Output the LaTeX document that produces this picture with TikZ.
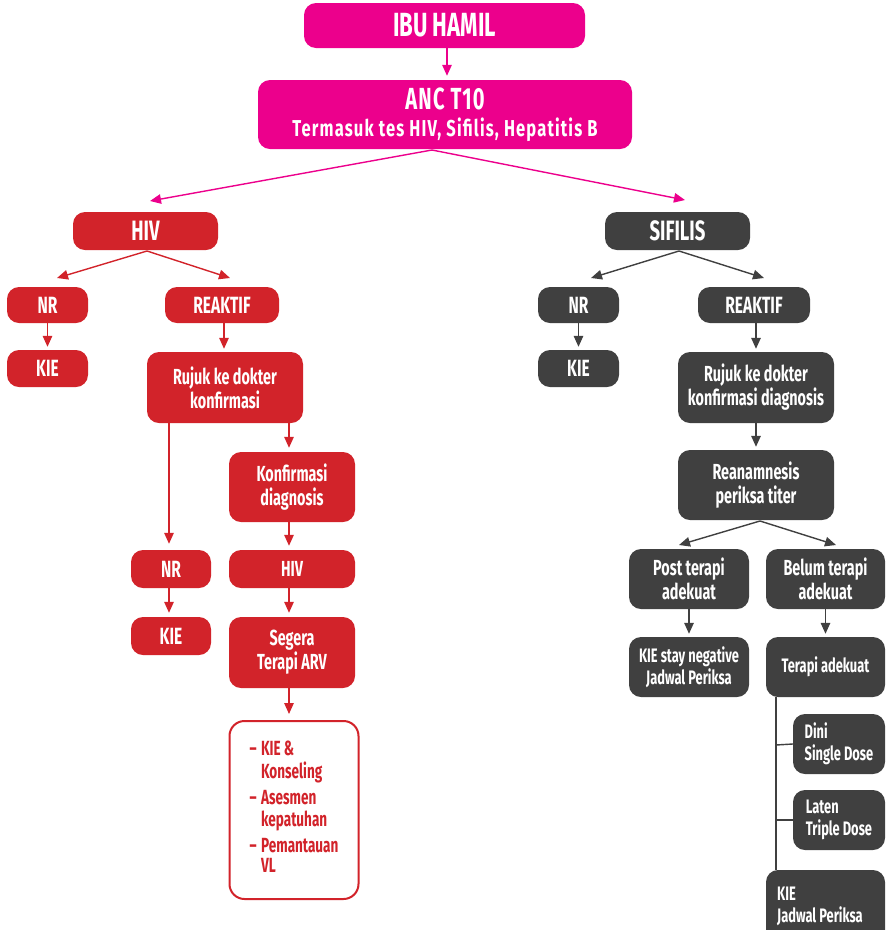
\documentclass[tikz,border=0pt]{standalone}
\usepackage{fontspec}
\setmainfont{Fira Sans}[FakeStretch=0.66]
\newfontfamily\widefont{Fira Sans}[FakeStretch=0.72, LetterSpace=5]
\newfontfamily\titlefont{Fira Sans}[FakeStretch=0.66, LetterSpace=4]
\usetikzlibrary{arrows.meta}
\definecolor{mag}{HTML}{EC008C}
\definecolor{hred}{HTML}{D2232A}
\definecolor{sgray}{HTML}{404040}
\begin{document}
\begin{tikzpicture}[x=1pt,y=-1pt,
  box/.style={rounded corners=12pt, inner sep=0pt, text=white, align=center, font=\bfseries\fontsize{21.8}{24}\selectfont},
  magbox/.style={box, fill=mag},
  redbox/.style={box, fill=hred},
  graybox/.style={box, fill=sgray},
  bigtext/.style={font=\bfseries\fontsize{23.5}{26}\selectfont},
  smalltext/.style={font=\bfseries\fontsize{19.5}{22}\selectfont},
  arr/.style={line width=1.4pt, -{Triangle[width=9.5pt,length=11pt]}},
  marr/.style={arr, draw=mag},
  rarr/.style={arr, draw=hred},
  garr/.style={arr, draw=sgray},
  gline/.style={line width=1.4pt, draw=sgray}
]
\useasboundingbox (0,0) rectangle (887,930);
% top
\node[magbox, minimum width=281pt, minimum height=45pt, font=\bfseries\fontsize{33.5}{36}\selectfont] (ibu) at (444.5,25.5) {IBU HAMIL};
\node[magbox, minimum width=374pt, minimum height=69pt, font=\bfseries\fontsize{23}{27}\selectfont] (anc) at (445,114.5)
  {{\titlefont\bfseries\fontsize{30.5}{27}\selectfont ANC T10}\\{\widefont\bfseries Termasuk tes HIV, Sifilis, Hepatitis B}};
\node[redbox, minimum width=145pt, minimum height=38pt, font=\bfseries\fontsize{28}{30}\selectfont] (hiv) at (145.5,231) {HIV};
\node[graybox, minimum width=145pt, minimum height=38pt, font=\bfseries\fontsize{28}{30}\selectfont] (sif) at (677.5,231) {SIFILIS};
% HIV branch
\node[redbox, bigtext, minimum width=81pt, minimum height=36pt] (hnr) at (47.5,305) {NR};
\node[redbox, bigtext, minimum width=114pt, minimum height=36pt] (hre) at (222,305) {REAKTIF};
\node[redbox, bigtext, minimum width=81pt, minimum height=37pt] (hkie) at (47.5,368.5) {KIE};
\node[redbox, minimum width=156pt, minimum height=71pt] (hruj) at (225,387.5) {Rujuk ke dokter\\konfirmasi};
\node[redbox, minimum width=126pt, minimum height=70pt] (hkon) at (292,487) {Konfirmasi\\diagnosis};
\node[redbox, bigtext, minimum width=80pt, minimum height=38pt] (hnr2) at (171,569) {NR};
\node[redbox, bigtext, minimum width=80pt, minimum height=38pt] (hkie2) at (171,636) {KIE};
\node[redbox, minimum width=126pt, minimum height=38pt] (hhiv2) at (292,569) {HIV};
\node[redbox, minimum width=126pt, minimum height=71pt] (hseg) at (292,652.5) {Segera\\Terapi ARV};
\node[box, draw=hred, line width=2pt, fill=white, text=hred, rounded corners=15pt, minimum width=129pt, minimum height=178pt, font=\bfseries\fontsize{20.5}{20}\selectfont] (hlist) at (294,810)
  {\begin{tabular}{@{}l@{\hspace{4.5pt}}l@{}}
   -- & KIE \&\\ & Konseling\\[6pt]
   -- & Asesmen\\ & kepatuhan\\[6pt]
   -- & Pemantauan\\ & VL
   \end{tabular}};
% SIFILIS branch
\node[graybox, bigtext, minimum width=81pt, minimum height=36pt] (snr) at (578.5,305) {NR};
\node[graybox, bigtext, minimum width=112pt, minimum height=36pt] (sre) at (754,305) {REAKTIF};
\node[graybox, bigtext, minimum width=81pt, minimum height=37pt] (skie) at (578.5,368.5) {KIE};
\node[graybox, minimum width=156pt, minimum height=71pt] (sruj) at (756,387.5) {Rujuk ke dokter\\konfirmasi diagnosis};
\node[graybox, minimum width=156pt, minimum height=70pt] (srea) at (756,485) {Reanamnesis\\periksa titer};
\node[graybox, minimum width=120pt, minimum height=60pt] (spost) at (689,579) {Post terapi\\adekuat};
\node[graybox, minimum width=119pt, minimum height=60pt] (sbel) at (825.5,579) {Belum terapi\\adekuat};
\node[graybox, smalltext, minimum width=120pt, minimum height=60pt] (sneg) at (689,667) {KIE stay negative\\Jadwal Periksa};
\node[graybox, smalltext, minimum width=119pt, minimum height=60pt] (ster) at (825.5,667) {Terapi adekuat};
\node[graybox, smalltext, minimum width=92pt, minimum height=60pt, align=left] (sdini) at (839,744) {Dini\\Single Dose};
\node[graybox, smalltext, minimum width=92pt, minimum height=60pt, align=left] (slat) at (839,820) {Laten\\Triple Dose};
\node[graybox, smalltext, minimum width=119pt, minimum height=72pt, align=left] (sjad) at (825.5,906) {KIE\\Jadwal Periksa\hspace*{11pt}};
% coordinates for angled connectors
\coordinate (ancb) at (432,150);
\coordinate (thiv) at (150,201);
\coordinate (tsif) at (685,200);
\coordinate (hivb) at (147,251);
\coordinate (thnr) at (57,278);
\coordinate (thre) at (230,278);
\coordinate (sifb) at (679,251);
\coordinate (tsnr) at (591,278);
\coordinate (tsre) at (764,278);
\coordinate (reab) at (760,521);
\coordinate (tpost) at (679,545);
\coordinate (tbel) at (836,545);
% connectors
\draw[marr, shorten >=4pt] (ibu.south -| 447,0) -- (anc.north -| 447,0);
\draw[marr] (ancb) -- (thiv);
\draw[marr] (ancb) -- (tsif);
\draw[rarr] (hivb) -- (thnr);
\draw[rarr] (hivb) -- (thre);
\draw[rarr, shorten >=3pt] (hnr.south) -- (hkie.north);
\draw[rarr, shorten >=3pt] (hre.south -| 224,0) -- (hruj.north -| 224,0);
\draw[rarr, shorten >=6pt] (hruj.south -| 169,0) -- (hnr2.north -| 169,0);
\draw[rarr, shorten >=4pt] (hruj.south -| 289,0) -- (hkon.north -| 289,0);
\draw[rarr, shorten >=4pt] (hnr2.south -| 169,0) -- (hkie2.north -| 169,0);
\draw[rarr, shorten >=4pt] (hkon.south -| 289,0) -- (hhiv2.north -| 289,0);
\draw[rarr, shorten >=4pt] (hhiv2.south -| 289,0) -- (hseg.north -| 289,0);
\draw[rarr, shorten >=6pt] (hseg.south -| 289,0) -- (hlist.north -| 289,0);
\draw[garr] (sifb) -- (tsnr);
\draw[garr] (sifb) -- (tsre);
\draw[garr, shorten >=3pt] (snr.south) -- (skie.north);
\draw[garr, shorten >=3pt] (sre.south -| 756,0) -- (sruj.north);
\draw[garr, shorten >=3pt] (sruj.south) -- (srea.north);
\draw[garr] (reab) -- (tpost);
\draw[garr] (reab) -- (tbel);
\draw[garr, shorten >=3pt] (spost.south) -- (sneg.north);
\draw[garr, shorten >=3pt] (sbel.south) -- (ster.north);
\draw[gline] (ster.south -| 776,0) -- (sjad.north -| 776,0);
\draw[gline] (776,745) -- (sdini.west);
\draw[gline] (776,820) -- (slat.west);
\end{tikzpicture}
\end{document}
